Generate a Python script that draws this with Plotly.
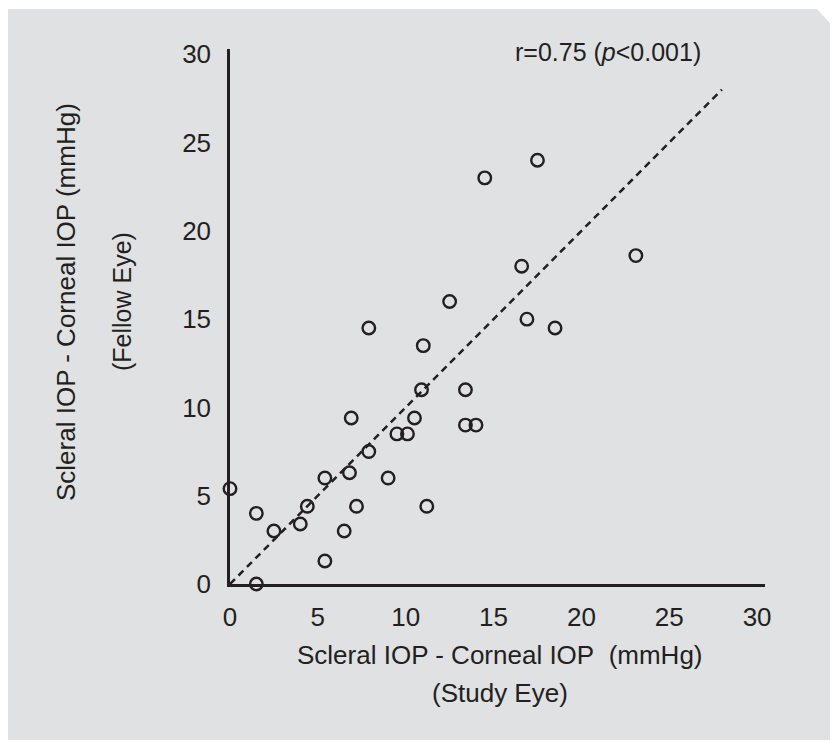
import plotly.graph_objects as go

# Data
study_eye = [0.0, 1.5, 1.5, 2.5, 4.0, 4.4, 5.4, 5.4, 6.5, 6.8, 6.9, 7.2, 7.9, 7.9, 9.0, 9.5,
             10.1, 10.5, 10.9, 11.0, 11.2, 12.5, 13.4, 13.4, 14.0, 14.5, 16.6, 16.9, 17.5, 18.5, 23.1]
fellow_eye = [5.4, 4.0, 0.0, 3.0, 3.4, 4.4, 6.0, 1.3, 3.0, 6.3, 9.4, 4.4, 14.5, 7.5, 6.0, 8.5,
              8.5, 9.4, 11.0, 13.5, 4.4, 16.0, 11.0, 9.0, 9.0, 23.0, 18.0, 15.0, 24.0, 14.5, 18.6]
line_x = [0, 28]
line_y = [0, 28]
tick_vals = [0, 5, 10, 15, 20, 25, 30]
tick_text = ["0", "5", "10", "15", "20", "25", "30"]

W, H = 838, 740
# plot-area edges in figure pixels (page has an 8px body margin)
L, R, T, B = 222, 757, 41, 576
ink = "#231f20"
font = "Liberation Sans, Arial, Helvetica, sans-serif"


def px(x):
    return (x - L) / (R - L)


def py(y):
    return (B - y) / (B - T)


fig = go.Figure()
fig.add_trace(go.Scatter(x=line_x, y=line_y, mode="lines",
                         line=dict(color=ink, width=2.5, dash="7px,5px"),
                         hoverinfo="skip", showlegend=False, cliponaxis=False))
fig.add_trace(go.Scatter(x=study_eye, y=fellow_eye, mode="markers",
                         marker=dict(symbol="circle-open", size=12.5, color=ink,
                                     line=dict(width=2.4, color=ink)),
                         showlegend=False, cliponaxis=False))

# gray card with cut top-right corner
path = "M {a},{b} L {a},{c} L {d},{c} L {e},{f} L {e},{b} Z".format(
    a=px(0), b=py(745), c=py(1), d=px(809), e=px(842), f=py(37))
fig.add_shape(type="path", path=path, xref="paper", yref="paper",
              fillcolor="#e0e1e3", line=dict(width=0), layer="below")

fig.add_annotation(x=px(600), y=py(44), xref="paper", yref="paper",
                   text="r=0.75 (<i>p</i>&lt;0.001)", showarrow=False,
                   xanchor="center", yanchor="middle",
                   font=dict(size=25, color=ink, family=font))
fig.add_annotation(x=px(492), y=py(647), xref="paper", yref="paper",
                   text="Scleral IOP - Corneal IOP&nbsp;&nbsp;(mmHg)", showarrow=False,
                   xanchor="center", yanchor="middle",
                   font=dict(size=26, color=ink, family=font))
fig.add_annotation(x=px(492), y=py(685), xref="paper", yref="paper",
                   text="(Study Eye)", showarrow=False,
                   xanchor="center", yanchor="middle",
                   font=dict(size=26, color=ink, family=font))
fig.add_annotation(x=px(58), y=py(294), xref="paper", yref="paper",
                   text="Scleral IOP - Corneal IOP (mmHg)", showarrow=False, textangle=-90,
                   xanchor="center", yanchor="middle",
                   font=dict(size=26, color=ink, family=font))
fig.add_annotation(x=px(114), y=py(294), xref="paper", yref="paper",
                   text="(Fellow Eye)", showarrow=False, textangle=-90,
                   xanchor="center", yanchor="middle",
                   font=dict(size=25, color=ink, family=font))

axis_common = dict(showgrid=False, zeroline=False, showline=True, linecolor=ink, linewidth=2.5,
                   ticks="", tickmode="array", tickvals=tick_vals, ticktext=tick_text,
                   tickfont=dict(size=26, color=ink, family=font), fixedrange=True)
fig.update_xaxes(range=[0, 30.45], ticklabelstandoff=8, **axis_common)
fig.update_yaxes(range=[0, 30.3], ticklabelstandoff=11, **axis_common)

fig.update_layout(width=W, height=H, margin=dict(l=L, r=W - R, t=T, b=H - B),
                  paper_bgcolor="white", plot_bgcolor="rgba(0,0,0,0)",
                  showlegend=False)

fig.write_html("out.html")
